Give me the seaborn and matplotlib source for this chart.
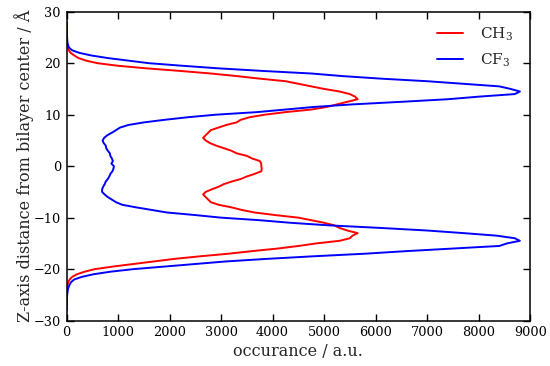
import numpy as np
import pandas as pd
import matplotlib
matplotlib.use("Agg")
import matplotlib.pyplot as plt
import seaborn as sns

# z positions (Å) and occurrence profiles
z_cf3 = [28, 27, 26, 25, 24, 23.5, 23, 22.5, 22, 21.5, 21, 20.5, 20, 19.5, 19, 18.5, 18, 17.5, 17,
         16.5, 16, 15.5, 15, 14.5, 14, 13.5, 13, 12.5, 12, 11.5, 11, 10.5, 10, 9.5, 9, 8.5, 8, 7.5,
         7, 6.5, 6, 5.5, 5, 4.5, 4, 3.5, 3, 2.5, 2, 1.5, 1, 0.5, 0, -0.5, -1, -1.5, -2, -2.5, -3,
         -3.5, -4, -4.5, -5, -5.5, -6, -6.5, -7, -7.5, -8, -8.5, -9, -9.5, -10, -10.5, -11, -11.5,
         -12, -12.5, -13, -13.5, -14, -14.5, -15, -15.5, -16, -16.5, -17, -17.5, -18, -18.5, -19,
         -19.5, -20, -20.5, -21, -21.5, -22, -22.5, -23, -23.5, -24, -25, -26, -27, -28]
cf3 = [0, 3, 6, 10, 18, 30, 50, 110, 250, 480, 800, 1200, 1600, 2250, 2950, 3800, 4750, 5350, 6100,
       7000, 7700, 8400, 8620, 8800, 8700, 8000, 7400, 6500, 5550, 4800, 4250, 3700, 2900, 2350,
       1900, 1500, 1200, 1040, 960, 880, 790, 730, 700, 720, 760, 770, 800, 840, 850, 880, 900,
       870, 920, 910, 890, 850, 830, 800, 760, 740, 710, 690, 690, 740, 800, 880, 960, 1080, 1350,
       1650, 1950, 2500, 3000, 3750, 4350, 5100, 6100, 7000, 7700, 8350, 8700, 8800, 8550, 8400,
       7500, 6600, 5800, 4800, 3900, 3100, 2500, 1900, 1300, 850, 520, 300, 150, 90, 60, 40, 25,
       12, 5, 2, 0]

z_ch3 = [28, 26, 25, 24, 23, 22.5, 22, 21.5, 21, 20.5, 20, 19.5, 19, 18.5, 18, 17.5, 17, 16.5, 16,
         15.5, 15, 14.5, 14, 13.5, 13, 12.5, 12, 11.5, 11, 10.5, 10, 9.5, 9, 8.5, 8, 7.5, 7, 6.5, 6,
         5.5, 5, 4.5, 4, 3.5, 3, 2.5, 2, 1.5, 1, 0.5, 0, -0.5, -1, -1.5, -2, -2.5, -3, -3.5, -4,
         -4.5, -5, -5.5, -6, -6.5, -7, -7.5, -8, -8.5, -9, -9.5, -10, -10.5, -11, -11.5, -12, -12.5,
         -13, -13.5, -14, -14.5, -15, -15.5, -16, -16.5, -17, -17.5, -18, -18.5, -19, -19.5, -20,
         -20.5, -21, -21.5, -22, -22.5, -23, -24, -25, -26, -28]
ch3 = [0, 2, 5, 10, 25, 45, 80, 150, 230, 380, 600, 1000, 1550, 2200, 2800, 3300, 3750, 4250, 4500,
       4750, 5000, 5300, 5500, 5600, 5650, 5450, 5250, 5050, 4750, 4250, 3850, 3550, 3380, 3300,
       3100, 2950, 2800, 2750, 2700, 2650, 2700, 2780, 2900, 3050, 3200, 3300, 3500, 3600, 3750,
       3780, 3780, 3790, 3780, 3650, 3500, 3380, 3200, 3050, 2950, 2820, 2700, 2650, 2700, 2750,
       2800, 2950, 3200, 3400, 3650, 4050, 4500, 4750, 5000, 5200, 5300, 5450, 5650, 5550, 5500,
       5300, 4850, 4500, 4100, 3600, 3150, 2600, 2100, 1700, 1300, 900, 550, 350, 200, 110, 60,
       35, 20, 8, 4, 2, 0]

series_names = ["CH$_3$", "CF$_3$"]
colors = ["#ff0000", "#0000ff"]

sns.set_theme(style="ticks")
plt.rcParams["font.family"] = ["DejaVu Serif"]
plt.rcParams["mathtext.fontset"] = "dejavuserif"

fig = plt.figure(figsize=(5.5, 3.66), dpi=100)
ax = fig.add_axes([0.121, 0.124, 0.843, 0.844])

df1 = pd.DataFrame({"occ": ch3, "z": z_ch3})
df2 = pd.DataFrame({"occ": cf3, "z": z_cf3})
sns.lineplot(data=df1, x="occ", y="z", sort=False, estimator=None, color=colors[0],
             lw=1.4, ax=ax, label=series_names[0])
sns.lineplot(data=df2, x="occ", y="z", sort=False, estimator=None, color=colors[1],
             lw=1.4, ax=ax, label=series_names[1])

ax.set_xlim(0, 9000)
ax.set_ylim(-30, 30)
ax.set_xticks(np.arange(0, 9001, 1000))
ax.set_yticks(np.arange(-30, 31, 10))
ax.tick_params(direction="in", length=5, width=1, top=True, right=True,
               labelsize=9.3, colors="black", pad=4)
for s in ax.spines.values():
    s.set_linewidth(1.1)
    s.set_color("black")

ax.set_xlabel("occurance / a.u.", fontsize=11.5, labelpad=3)
ax.set_ylabel("Z-axis distance from bilayer center / Å", fontsize=11.5, labelpad=0)

leg = ax.legend(loc="upper right", frameon=False, fontsize=11, handlelength=1.7,
                handletextpad=1.1, labelspacing=0.55, borderaxespad=0.0,
                bbox_to_anchor=(0.975, 0.975))

fig.savefig("out.png", dpi=100)
